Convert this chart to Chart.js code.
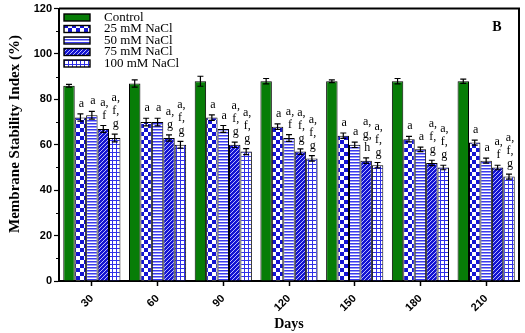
<!DOCTYPE html>
<html>
<head>
<meta charset="utf-8">
<script src="https://cdn.jsdelivr.net/npm/chart.js@4"></script>
<style>
  html, body { margin: 0; padding: 0; background: #fff; }
  #wrap { width: 525px; height: 333px; }
</style>
</head>
<body>
<div id="wrap"><canvas id="chart"></canvas></div>
<script>
const days = ["30", "60", "90", "120", "150", "180", "210"];
const seriesNames = ["Control", "25 mM NaCl", "50 mM NaCl", "75 mM NaCl", "100 mM NaCl"];

const control = [86, 87, 88, 88, 88, 88, 88];
const nacl25 = [72, 70, 72, 68, 64, 62.5, 61];
const nacl50 = [73, 70, 67, 63, 60, 58, 53];
const nacl75 = [67, 63, 60, 57, 53, 52, 50];
const nacl100 = [63, 60, 57, 54, 51, 50, 46];

const errControl = [0.6, 1.6, 2.2, 1.2, 0.6, 1.2, 0.9];
const err25 = [1.6, 1.7, 1.2, 1.2, 1.2, 1.2, 1.1];
const err50 = [1.7, 1.7, 1.5, 1.5, 1.2, 1.0, 1.1];
const err75 = [1.5, 1.4, 1.2, 1.2, 1.2, 1.2, 1.0];
const err100 = [1.7, 1.5, 1.3, 1.2, 1.2, 1.0, 1.1];

const let25 = ["a", "a", "a", "a", "a", "a", "a"];
const let50 = ["a", "a", "a", "a, f", "a", "a", "a"];
const let75 = ["a, f", "a, g", "a, f, g", "a, f, g", "a, g, h", "a, f, g", "a, f"];
const let100 = ["a, f, g", "a, f, g", "a, f, g", "a, f, g", "a, f, g", "a, f, g", "a, f, g"];

const values = [control, nacl25, nacl50, nacl75, nacl100];
const errors = [errControl, err25, err50, err75, err100];
const letters = [null, let25, let50, let75, let100];

const BLUE = "#1414d2";
const GREEN = "#077d07";

function makePattern(kind) {
  const c = document.createElement("canvas");
  const x = c.getContext("2d");
  if (kind === "checker") {
    c.width = c.height = 8;
    x.fillStyle = "#fff"; x.fillRect(0, 0, 8, 8);
    x.fillStyle = BLUE; x.fillRect(0, 0, 4, 4); x.fillRect(4, 4, 4, 4);
  } else if (kind === "hstripe") {
    c.width = 4; c.height = 3;
    x.fillStyle = "#fff"; x.fillRect(0, 0, 4, 3);
    x.fillStyle = "#3a3aee"; x.fillRect(0, 0, 4, 1);
    x.fillStyle = "#9a9af6"; x.fillRect(0, 1, 4, 1);
  } else if (kind === "diag") {
    c.width = c.height = 4;
    x.fillStyle = BLUE; x.fillRect(0, 0, 4, 4);
    x.fillStyle = "#b8b8ff";
    for (let i = 0; i < 4; i++) x.fillRect(i, 3 - i, 1, 1);
  } else {
    c.width = c.height = 4;
    x.fillStyle = "#fff"; x.fillRect(0, 0, 4, 4);
    x.fillStyle = "#3030e8"; x.fillRect(0, 0, 1, 4); x.fillRect(0, 0, 4, 1);
  }
  return x.createPattern(c, "repeat");
}

const fills = [GREEN, makePattern("checker"), makePattern("hstripe"), makePattern("diag"), makePattern("grid")];

const extras = {
  id: "extras",
  afterDatasetsDraw(chart) {
    const ctx = chart.ctx, ys = chart.scales.y;
    ctx.save();
    chart.data.datasets.forEach((ds, i) => {
      const meta = chart.getDatasetMeta(i);
      meta.data.forEach((bar, j) => {
        const v = values[i][j], e = errors[i][j];
        const top = ys.getPixelForValue(v + e), bot = ys.getPixelForValue(v - e);
        ctx.strokeStyle = "#000"; ctx.lineWidth = 1.2;
        ctx.beginPath();
        ctx.moveTo(bar.x, top); ctx.lineTo(bar.x, bot);
        ctx.moveTo(bar.x - 3, top); ctx.lineTo(bar.x + 3, top);
        ctx.moveTo(bar.x - 3, bot); ctx.lineTo(bar.x + 3, bot);
        ctx.stroke();
        if (letters[i]) {
          const lines = letters[i][j].split(" ");
          ctx.fillStyle = "#000";
          ctx.font = "12px 'Liberation Serif'";
          ctx.textAlign = "center"; ctx.textBaseline = "alphabetic";
          for (let k = 0; k < lines.length; k++) {
            const yy = top - 7 - (lines.length - 1 - k) * 13;
            ctx.fillText(lines[k], bar.x + 1, yy);
          }
        }
      });
    });
    ctx.restore();
  },
  afterDraw(chart) {
    const ctx = chart.ctx, a = chart.chartArea, ys = chart.scales.y;
    ctx.save();
    // frame top and right
    ctx.strokeStyle = "#000"; ctx.lineWidth = 2;
    ctx.beginPath();
    ctx.moveTo(a.left, a.top); ctx.lineTo(a.right, a.top); ctx.lineTo(a.right, a.bottom);
    ctx.stroke();
    // minor y ticks
    ctx.lineWidth = 1;
    ctx.beginPath();
    for (let v = 10; v < 120; v += 20) {
      const p = Math.round(ys.getPixelForValue(v)) + 0.5;
      ctx.moveTo(a.left - 3, p); ctx.lineTo(a.left, p);
    }
    ctx.stroke();
    // y axis title
    ctx.save();
    ctx.translate(15, 134);
    ctx.rotate(-Math.PI / 2);
    ctx.font = "bold 15px 'Liberation Serif'";
    ctx.textAlign = "center"; ctx.textBaseline = "middle";
    ctx.fillStyle = "#000";
    ctx.fillText("Membrane Stability Index (%)", 0, 0);
    ctx.restore();
    // legend
    ctx.font = "13px 'Liberation Serif'";
    ctx.textBaseline = "middle"; ctx.textAlign = "left";
    seriesNames.forEach((name, i) => {
      const cy = 17.5 + i * 11.5;
      ctx.fillStyle = fills[i];
      ctx.fillRect(64, cy - 3.5, 26, 7);
      ctx.strokeStyle = "#000"; ctx.lineWidth = 1.4;
      ctx.strokeRect(64, cy - 3.5, 26, 7);
      ctx.fillStyle = "#000";
      ctx.fillText(name, 104, cy);
    });
    // panel letter
    ctx.font = "bold 14px 'Liberation Serif'";
    ctx.textAlign = "center";
    ctx.fillText("B", 497, 27);
    ctx.restore();
  }
};

new Chart("chart", {
  type: "bar",
  data: {
    labels: days,
    datasets: seriesNames.map((name, i) => ({
      label: name,
      data: values[i],
      backgroundColor: fills[i],
      borderColor: "#000",
      borderWidth: 1,
      categoryPercentage: 0.87,
      barPercentage: 1
    }))
  },
  options: {
    responsive: true,
    maintainAspectRatio: false,
    animation: false,
    devicePixelRatio: 1,
    layout: { padding: { top: 8, right: 6, left: 0, bottom: 0 } },
    plugins: { legend: { display: false }, tooltip: { enabled: false } },
    scales: {
      x: {
        offset: true,
        grid: { drawOnChartArea: false, offset: false, tickLength: 5, color: "#000", tickWidth: 1.5 },
        border: { color: "#000", width: 2 },
        ticks: {
          color: "#000", minRotation: 45, maxRotation: 45, padding: 6,
          font: { family: "'Liberation Sans'", weight: "bold", size: 11 }
        },
        title: {
          display: true, text: "Days", color: "#000", padding: 0,
          font: { family: "'Liberation Serif'", weight: "bold", size: 14 }
        },
        afterFit(s) { s.height = 52; }
      },
      y: {
        min: 0, max: 120,
        grid: { drawOnChartArea: false, tickLength: 5, color: "#000", tickWidth: 1.2 },
        border: { color: "#000", width: 2 },
        ticks: {
          stepSize: 20, color: "#000", padding: 2,
          font: { family: "'Liberation Sans'", weight: "bold", size: 11 }
        },
        afterFit(s) { s.width = 59; }
      }
    }
  },
  plugins: [extras]
});
</script>
</body>
</html>
